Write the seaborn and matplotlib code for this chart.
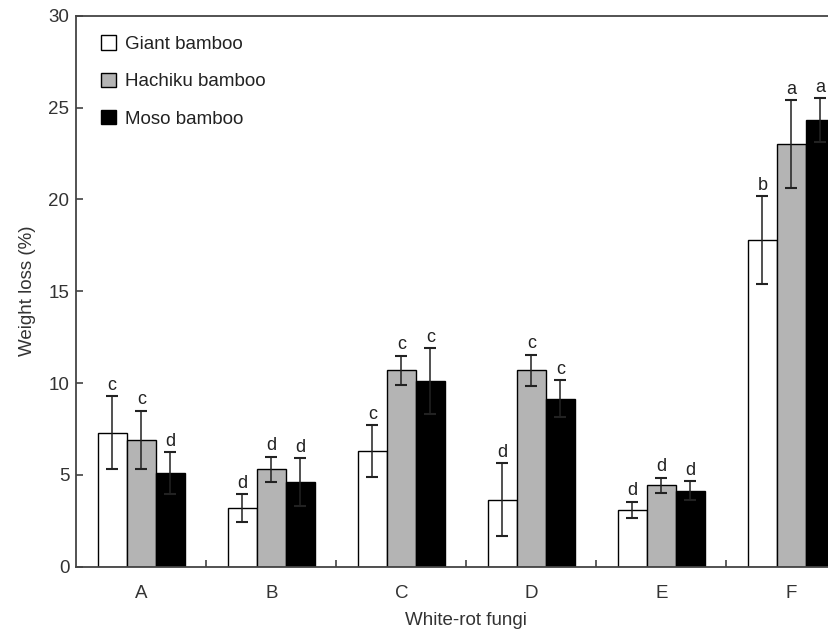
import numpy as np
import pandas as pd
import matplotlib
matplotlib.use('Agg')
import matplotlib.pyplot as plt
from matplotlib.patches import Patch
import seaborn as sns

# data
fungi = ['A', 'B', 'C', 'D', 'E', 'F']
species = ['Giant bamboo', 'Hachiku bamboo', 'Moso bamboo']
giant = [7.3, 3.2, 6.3, 3.65, 3.1, 17.8]
hachiku = [6.9, 5.3, 10.7, 10.7, 4.43, 23.0]
moso = [5.1, 4.6, 10.1, 9.15, 4.15, 24.3]
giant_err = [2.0, 0.75, 1.4, 2.0, 0.45, 2.4]
hachiku_err = [1.6, 0.7, 0.8, 0.85, 0.42, 2.4]
moso_err = [1.15, 1.3, 1.8, 1.0, 0.5, 1.2]
giant_lbl = ['c', 'd', 'c', 'd', 'd', 'b']
hachiku_lbl = ['c', 'd', 'c', 'c', 'd', 'a']
moso_lbl = ['d', 'd', 'c', 'c', 'd', 'a']

colors = ['white', '#b4b4b4', 'black']

df = pd.DataFrame({
    'fungi': fungi * 3,
    'species': np.repeat(species, len(fungi)),
    'loss': giant + hachiku + moso,
})
errs = [giant_err, hachiku_err, moso_err]
lbls = [giant_lbl, hachiku_lbl, moso_lbl]

sns.set_style('ticks')
plt.rcParams['font.family'] = ['Liberation Sans', 'DejaVu Sans']

fig = plt.figure(figsize=(8.29, 6.29), dpi=100)
ax = fig.add_axes([0.092, 0.099, 0.941, 0.876])

sns.barplot(data=df, x='fungi', y='loss', hue='species', palette=colors,
            errorbar=None, width=0.67, edgecolor='black', linewidth=1.0,
            legend=False, ax=ax)

for cont, err, lab in zip(ax.containers, errs, lbls):
    for bar, e, t in zip(cont, err, lab):
        x = bar.get_x() + bar.get_width() / 2
        h = bar.get_height()
        ax.errorbar(x, h, yerr=e, fmt='none', ecolor='#222222',
                    elinewidth=1.1, capsize=4, capthick=1.5)
        ax.text(x, h + e + 0.12, t, ha='center', va='bottom', fontsize=13,
                color='#222222')

ax.set_xlim(-0.5, 5.5)
ax.set_ylim(0, 30)
ax.set_yticks([0, 5, 10, 15, 20, 25, 30])
ax.tick_params(axis='y', direction='in', length=5, width=1.1, labelsize=13.5,
               pad=5, colors='#333333')
ax.tick_params(axis='x', which='major', length=0, labelsize=13.5, pad=13,
               colors='#333333')
ax.set_xticks(np.arange(0.5, 5.5, 1.0), minor=True)
ax.tick_params(axis='x', which='minor', direction='in', length=5, width=1.1,
               color='#333333')
ax.set_xlabel('White-rot fungi', fontsize=13.5, color='#333333', labelpad=7)
ax.set_ylabel('Weight loss (%)', fontsize=13.5, color='#333333', labelpad=9)

for sp in ax.spines.values():
    sp.set_visible(True)
    sp.set_linewidth(1.3)
    sp.set_color('#444444')

handles = [Patch(facecolor=c, edgecolor='black', linewidth=1.0) for c in colors]
ax.legend(handles, species, loc='upper left', bbox_to_anchor=(0.01, 0.995),
          frameon=False, fontsize=13.5, handlelength=0.8, handleheight=0.8,
          handletextpad=0.5, labelspacing=1.05, labelcolor='#222222')

fig.savefig('out.png', dpi=100)
